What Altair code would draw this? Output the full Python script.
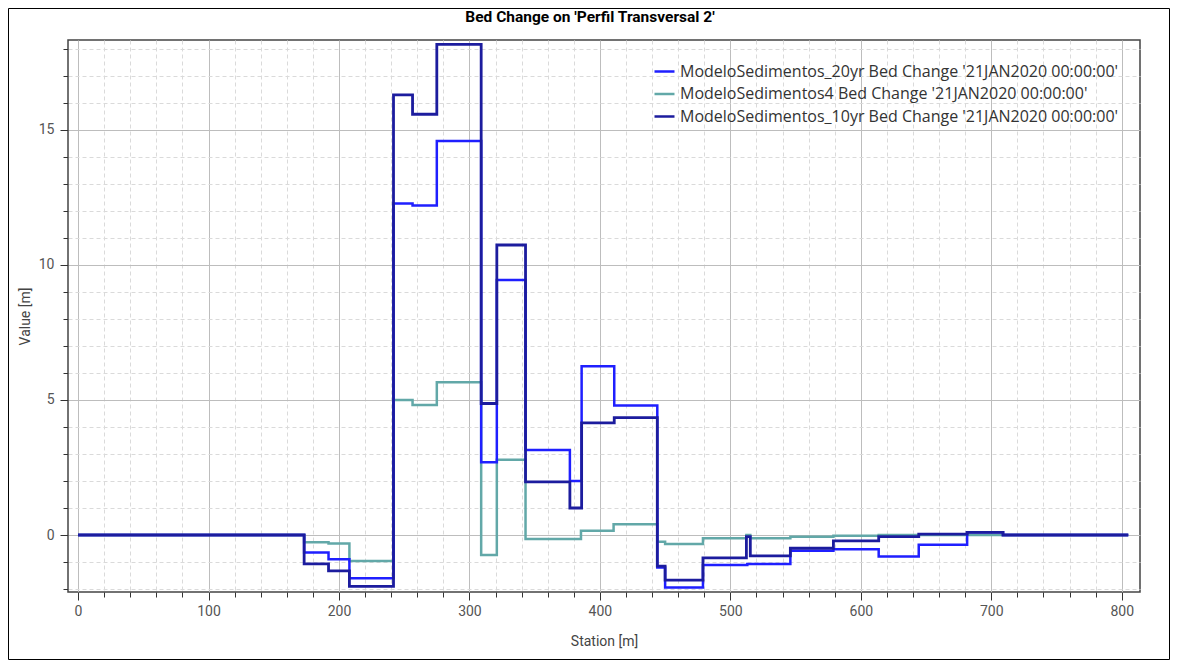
import altair as alt
import pandas as pd

title_text = "Bed Change on 'Perfil Transversal 2'"
x_title = "Station [m]"
y_title = "Value [m]"

series_names = [
    "ModeloSedimentos_20yr Bed Change '21JAN2020 00:00:00'",
    "ModeloSedimentos4 Bed Change '21JAN2020 00:00:00'",
    "ModeloSedimentos_10yr Bed Change '21JAN2020 00:00:00'",
]
series_colors = ["#1f1fff", "#62a8a8", "#1c1c9e"]

station_20yr = [0, 173.3, 192, 208, 241.8, 256.4, 275, 309, 321, 343, 377, 386, 411,
                444, 450, 479, 513, 546, 579, 613.7, 644.4, 681.5, 709, 805]
value_20yr = [0, -0.65, -0.90, -1.6, 12.28, 12.2, 14.59, 2.69, 9.44, 3.15, 2.0, 6.25, 4.8,
              -1.2, -1.94, -1.11, -1.07, -0.58, -0.53, -0.80, -0.36, 0.1, 0, 0]

station_4 = [0, 173.3, 192, 208, 241.8, 256.4, 275, 309, 321, 343, 385.5, 410.5,
             444, 450, 479, 512.3, 515.3, 546, 579, 613.7, 805]
value_4 = [0, -0.27, -0.31, -0.96, 5.0, 4.81, 5.66, -0.74, 2.79, -0.15, 0.16, 0.4,
           -0.25, -0.33, -0.12, 0.0, -0.12, -0.06, -0.03, 0, 0]

station_10yr = [0, 173.3, 192, 208, 241.8, 256.4, 275, 309, 321, 343, 377, 386, 411,
                444, 450, 479, 512.3, 515.3, 546, 579, 613.7, 644.4, 681.5, 709, 805]
value_10yr = [0, -1.07, -1.33, -1.9, 16.3, 15.58, 18.17, 4.87, 10.74, 1.97, 1.0, 4.15, 4.35,
              -1.15, -1.67, -0.85, -0.06, -0.77, -0.49, -0.22, -0.06, 0.03, 0.1, 0, 0]

x_ticks = list(range(0, 801, 20))
y_ticks = list(range(-2, 19, 1))

rows = []
for name, st, vals in [
    (series_names[0], station_20yr, value_20yr),
    (series_names[1], station_4, value_4),
    (series_names[2], station_10yr, value_10yr),
]:
    for s, v in zip(st, vals):
        rows.append({"series": name, "station": s, "value": v})
df = pd.DataFrame(rows)

FONT = "Roboto"

def cond(test, a, b):
    return {"condition": {"test": test, "value": a}, "value": b}

xt = "datum.value % 100 === 0"
yt = "datum.value % 5 === 0"

x_axis = alt.Axis(
    values=x_ticks,
    labelExpr=f"{xt} ? datum.label : ''",
    labelOverlap=False,
    tickSize=cond(xt, 8, 5),
    tickColor="#333333",
    gridDash=cond(xt, [], [4, 3]),
    gridColor=cond(xt, "#bdbdbd", "#dadada"),
    domain=False,
    labelPadding=4,
    labelFontSize=14,
    labelColor="#555555",
    labelFont=FONT,
    title=x_title,
    titleFont=FONT,
    titleFontSize=14,
    titleFontWeight="normal",
    titleColor="#444444",
    titlePadding=16,
)
y_axis = alt.Axis(
    values=y_ticks,
    labelExpr=f"{yt} ? datum.label : ''",
    labelOverlap=False,
    tickSize=cond(yt, 8, 5),
    tickColor="#333333",
    gridDash=cond(yt, [], [4, 3]),
    gridColor=cond(yt, "#bdbdbd", "#dadada"),
    domain=False,
    labelPadding=6,
    labelFontSize=14,
    labelColor="#555555",
    labelFont=FONT,
    title=y_title,
    titleFont=FONT,
    titleFontSize=14,
    titleFontWeight="normal",
    titleColor="#444444",
    titlePadding=6,
)

x_enc = alt.X("station:Q", scale=alt.Scale(domain=[-7.7, 814], nice=False, zero=False), axis=x_axis)
y_enc = alt.Y("value:Q", scale=alt.Scale(domain=[-2.11, 18.33], nice=False, zero=False), axis=y_axis)
color_enc = alt.Color(
    "series:N",
    scale=alt.Scale(domain=series_names, range=series_colors),
    sort=series_names,
    legend=alt.Legend(
        title=None,
        orient="none",
        legendX=585,
        legendY=20,
        symbolType="stroke",
        symbolSize=400,
        symbolStrokeWidth=2.5,
        labelFont="Open Sans",
        labelFontSize=16,
        labelColor="#333333",
        rowPadding=2.5,
        labelLimit=700,
    ),
)

base = alt.Chart(df)
layers = []
for idx, w in [(1, 2.5), (0, 2.5), (2, 2.8)]:
    layers.append(
        base.transform_filter(alt.datum.series == series_names[idx])
        .mark_line(interpolate="step-after", strokeWidth=w)
        .encode(x=x_enc, y=y_enc, color=color_enc)
    )

frame = alt.Chart(pd.DataFrame({"f": [0]})).mark_rect(
    filled=False, stroke="#000000", strokeWidth=1
).encode(
    x=alt.value(-59.5), x2=alt.value(1101.5), y=alt.value(-31.5), y2=alt.value(619.5)
)

chart = alt.layer(frame, *layers).properties(
    width=1072,
    height=552,
    title=alt.Title(title_text, font=FONT, fontSize=15.5, fontWeight="bold", color="#000000",
                    anchor="middle", frame="group", dx=-14, offset=-17),
    autosize=alt.AutoSizeParams(type="none"),
    padding={"left": 60, "top": 32, "right": 30, "bottom": 68},
    background="#ffffff",
).configure_view(stroke="#444444", strokeWidth=1.5)

chart.save("out.html", embed_options={"renderer": "svg", "actions": False})
